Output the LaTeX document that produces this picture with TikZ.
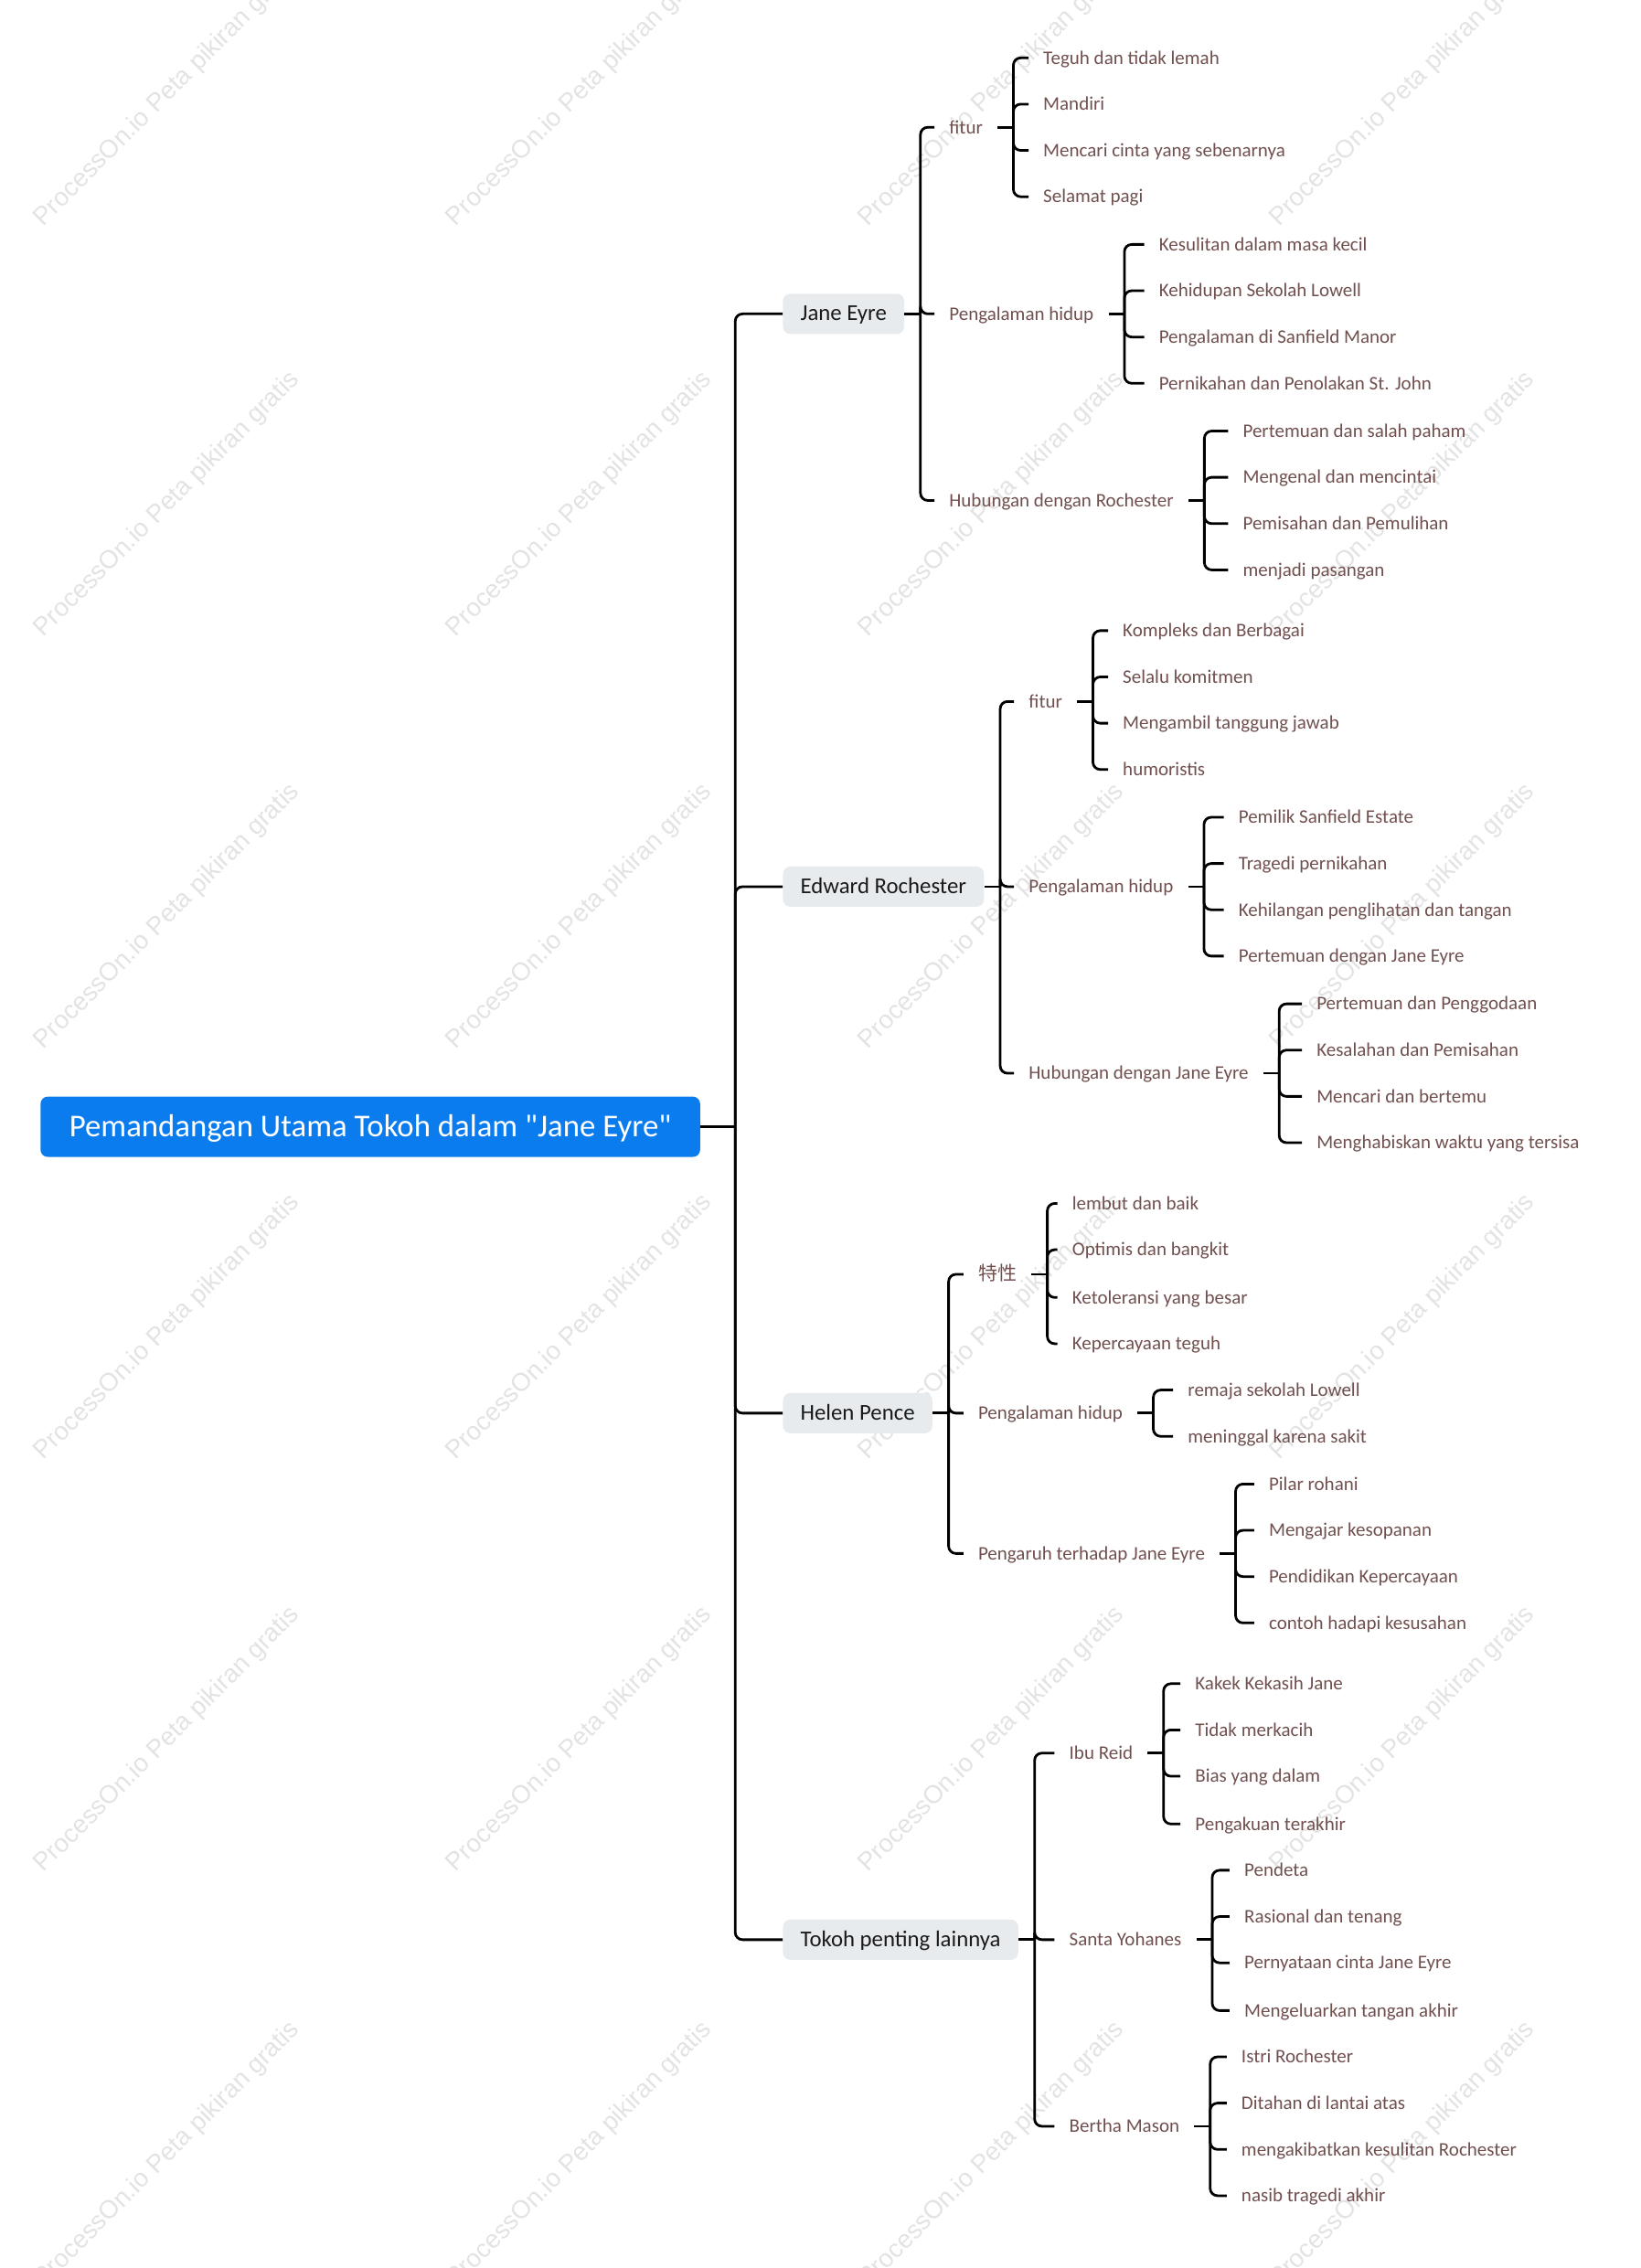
\documentclass[tikz,border=0pt]{standalone}
\usepackage{fontspec}
\setmainfont{Carlito}[Ligatures=TeXOff]
\newfontfamily\cjkfont{Noto Sans CJK SC}
\newfontfamily\wmfont{Liberation Sans}
\usetikzlibrary{positioning,calc}

\definecolor{rootblue}{RGB}{10,124,238}
\definecolor{topicgray}{RGB}{232,235,238}
\definecolor{topictext}{RGB}{26,26,26}
\definecolor{leafbrown}{RGB}{112,80,79}

\begin{document}
\begin{tikzpicture}[
  x=0.791pt, y=-0.791pt,
  rootnode/.style={fill=rootblue, text=white, rounded corners=4pt,
    font=\fontsize{17.4}{20}\selectfont, minimum height=33pt,
    minimum width=360.7pt, text height=13pt, text depth=1.8pt},
  topic/.style={fill=topicgray, text=topictext, rounded corners=4pt,
    font=\fontsize{12.4}{14}\selectfont, minimum height=22pt,
    inner xsep=9.6pt, text height=9.3pt, text depth=1.7pt, anchor=west},
  sub/.style={text=leafbrown, font=\fontsize{10.5}{12}\selectfont,
    inner xsep=7.9pt, text height=8pt, text depth=1.2pt, anchor=west},
  leaf/.style={sub},
  link/.style={draw=black, line width=1.4pt, rounded corners=4pt},
  wm/.style={font=\wmfont\fontsize{13.9}{16}\selectfont, text=black!11,
    rotate=45, anchor=base west, inner sep=0pt},
]
\useasboundingbox (0,0) rectangle (1134,1568);
% watermark grid
\foreach \wx in {30,315,600,884}
  \foreach \wy in {157,441,726,1010,1295,1582}
    \node[wm] (wm-\wx-\wy) at (\wx,\wy) {ProcessOn.io Peta pikiran gratis};

% root and main topics
\node[rootnode] (root) at (256,779) {Pemandangan Utama Tokoh dalam "Jane Eyre"};
\node[topic] (jane) at (541,217) {Jane Eyre};
\node[topic] (edw) at (541,613) {Edward Rochester};
\node[topic] (helen) at (541,977) {Helen Pence};
\node[topic] (tokoh) at (541,1341) {Tokoh penting lainnya};

% Jane Eyre
\node[sub] (jfit) at (646,88) {fitur};
\node[sub] (jhid) at (646,217) {Pengalaman hidup};
\node[sub] (jhub) at (646,346) {Hubungan dengan Rochester};
\node[leaf] (jfit1) at (711,40) {Teguh dan tidak lemah};
\node[leaf] (jfit2) at (711,72) {Mandiri};
\node[leaf] (jfit3) at (711,104) {Mencari cinta yang sebenarnya};
\node[leaf] (jfit4) at (711,136) {Selamat pagi};
\node[leaf] (jhid1) at (791,169) {Kesulitan dalam masa kecil};
\node[leaf] (jhid2) at (791,201) {Kehidupan Sekolah Lowell};
\node[leaf] (jhid3) at (791,233) {Pengalaman di Sanfield Manor};
\node[leaf] (jhid4) at (791,265) {Pernikahan dan Penolakan St. John};
\node[leaf] (jhub1) at (849,298) {Pertemuan dan salah paham};
\node[leaf] (jhub2) at (849,330) {Mengenal dan mencintai};
\node[leaf] (jhub3) at (849,362) {Pemisahan dan Pemulihan};
\node[leaf] (jhub4) at (849,394) {menjadi pasangan};

% Edward Rochester
\node[sub] (efit) at (701,485) {fitur};
\node[sub] (ehid) at (701,613) {Pengalaman hidup};
\node[sub] (ehub) at (701,742) {Hubungan dengan Jane Eyre};
\node[leaf] (efit1) at (766,436) {Kompleks dan Berbagai};
\node[leaf] (efit2) at (766,468) {Selalu komitmen};
\node[leaf] (efit3) at (766,500) {Mengambil tanggung jawab};
\node[leaf] (efit4) at (766,532) {humoristis};
\node[leaf] (ehid1) at (846,565) {Pemilik Sanfield Estate};
\node[leaf] (ehid2) at (846,597) {Tragedi pernikahan};
\node[leaf] (ehid3) at (846,629) {Kehilangan penglihatan dan tangan};
\node[leaf] (ehid4) at (846,661) {Pertemuan dengan Jane Eyre};
\node[leaf] (ehub1) at (900,694) {Pertemuan dan Penggodaan};
\node[leaf] (ehub2) at (900,726) {Kesalahan dan Pemisahan};
\node[leaf] (ehub3) at (900,758) {Mencari dan bertemu};
\node[leaf] (ehub4) at (900,790) {Menghabiskan waktu yang tersisa};

% Helen Pence
\node[sub, font=\cjkfont\fontsize{10.5}{12}\selectfont] (hsif) at (666,881) {特性};
\node[sub] (hhid) at (666,977) {Pengalaman hidup};
\node[sub] (hpen) at (666,1074) {Pengaruh terhadap Jane Eyre};
\node[leaf] (hsif1) at (731,832) {lembut dan baik};
\node[leaf] (hsif2) at (731,864) {Optimis dan bangkit};
\node[leaf] (hsif3) at (731,897) {Ketoleransi yang besar};
\node[leaf] (hsif4) at (731,929) {Kepercayaan teguh};
\node[leaf] (hhid1) at (811,961) {remaja sekolah Lowell};
\node[leaf] (hhid2) at (811,993) {meninggal karena sakit};
\node[leaf] (hpen1) at (867,1026) {Pilar rohani};
\node[leaf] (hpen2) at (867,1058) {Mengajar kesopanan};
\node[leaf] (hpen3) at (867,1090) {Pendidikan Kepercayaan};
\node[leaf] (hpen4) at (867,1122) {contoh hadapi kesusahan};

% Tokoh penting lainnya
\node[sub] (treid) at (729,1212) {Ibu Reid};
\node[sub] (tyoh) at (729,1341) {Santa Yohanes};
\node[sub] (tber) at (729,1470) {Bertha Mason};
\node[leaf] (treid1) at (816,1164) {Kakek Kekasih Jane};
\node[leaf] (treid2) at (816,1196) {Tidak merkacih};
\node[leaf] (treid3) at (816,1228) {Bias yang dalam};
\node[leaf] (treid4) at (816,1261) {Pengakuan terakhir};
\node[leaf] (tyoh1) at (850,1293) {Pendeta};
\node[leaf] (tyoh2) at (850,1325) {Rasional dan tenang};
\node[leaf] (tyoh3) at (850,1357) {Pernyataan cinta Jane Eyre};
\node[leaf] (tyoh4) at (850,1390) {Mengeluarkan tangan akhir};
\node[leaf] (tber1) at (848,1422) {Istri Rochester};
\node[leaf] (tber2) at (848,1454) {Ditahan di lantai atas};
\node[leaf] (tber3) at (848,1486) {mengakibatkan kesulitan Rochester};
\node[leaf] (tber4) at (848,1518) {nasib tragedi akhir};

% trunk
\draw[link, line width=1.6pt] (root.east) -- ++(24,0) coordinate (btrunk);
\foreach \c in {jane,edw,helen,tokoh}
  \draw[link] (btrunk) |- (\c.west);

% brackets: parent stub, then one rounded branch per child
\foreach \p/\kids in {jane/{jfit,jhid,jhub}, edw/{efit,ehid,ehub},
    helen/{hsif,hhid,hpen}, tokoh/{treid,tyoh,tber},
    jfit/{jfit1,jfit2,jfit3,jfit4}, jhid/{jhid1,jhid2,jhid3,jhid4},
    jhub/{jhub1,jhub2,jhub3,jhub4}, efit/{efit1,efit2,efit3,efit4},
    ehid/{ehid1,ehid2,ehid3,ehid4}, ehub/{ehub1,ehub2,ehub3,ehub4},
    hsif/{hsif1,hsif2,hsif3,hsif4}, hhid/{hhid1,hhid2},
    hpen/{hpen1,hpen2,hpen3,hpen4}, treid/{treid1,treid2,treid3,treid4},
    tyoh/{tyoh1,tyoh2,tyoh3,tyoh4}, tber/{tber1,tber2,tber3,tber4}} {
  \draw[link] (\p.east) -- ++(11,0) coordinate (b-\p);
  \foreach \c in \kids
    \draw[link] (b-\p) |- (\c.west);
}
\end{tikzpicture}
\end{document}
